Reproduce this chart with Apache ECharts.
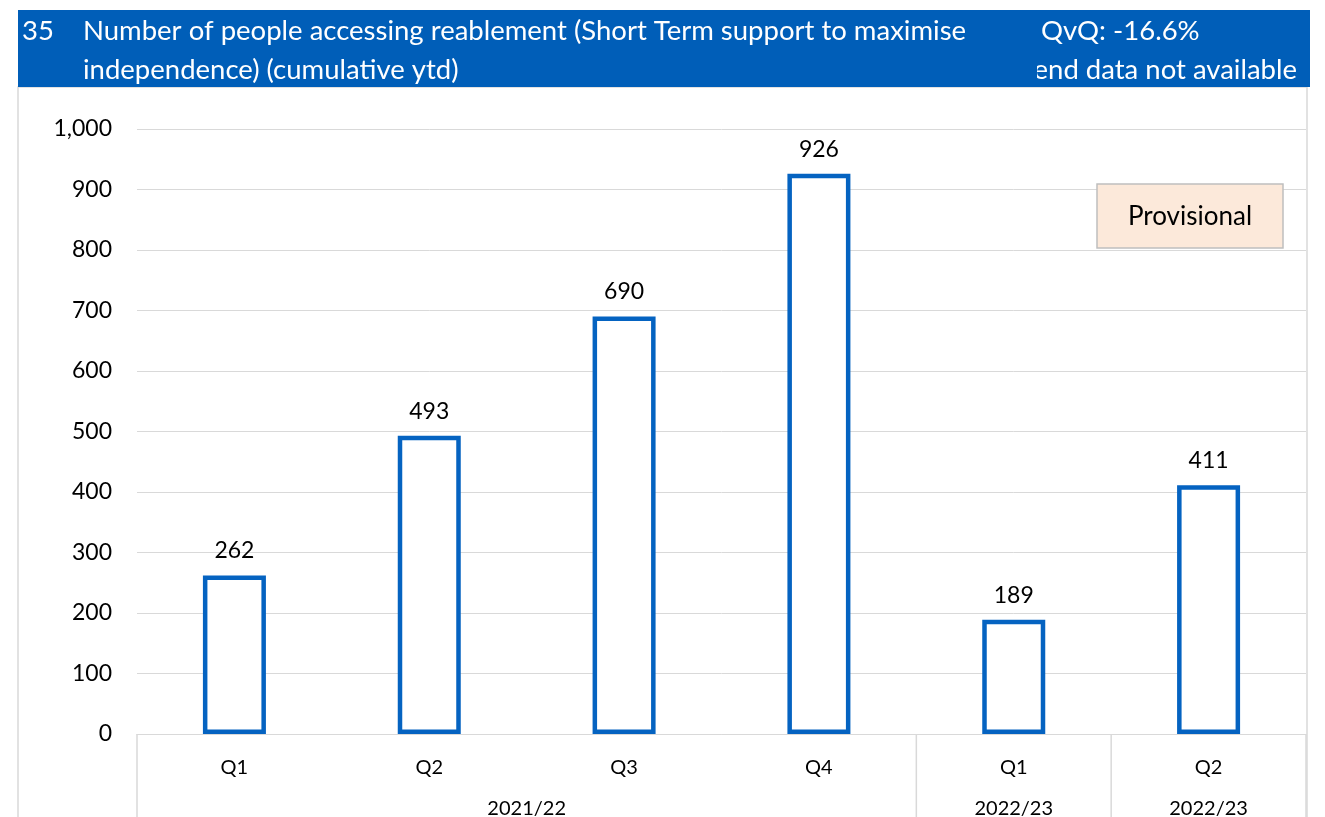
<!DOCTYPE html>
<html><head><meta charset="utf-8">
<script src="https://cdn.jsdelivr.net/npm/echarts@6/dist/echarts.min.js"></script>
<style>html,body{margin:0;padding:0;background:#fff}#c{width:1325px;height:817px}</style>
</head><body><div id="c"></div>
<script>
const categories = ['Q1', 'Q2', 'Q3', 'Q4', 'Q1', 'Q2'];
const values = [262, 493, 690, 926, 189, 411];
const groupLabels = ['2021/22', '2022/23', '2022/23'];
const groupStarts = [0, 4, 5];
const groupEnds = [3, 4, 5];
const titleNumber = '35';
const titleLines = ['Number of people accessing reablement (Short Term support to maximise', 'independence) (cumulative ytd)'];
const qvqText = 'QvQ: -16.6%';
const trendText = 'Trend data not available';
const noteText = 'Provisional';

const FONT = 'Lato';
const BLUE_HEAD = '#005EB8';
const BLUE_BAR = '#0563C1';
const GRID_C = '#D9D9D9';
const HEAD_SIZE = 27.5;

const chart = echarts.init(document.getElementById('c'), null, {renderer: 'canvas'});
const base = {
  animation: false,
  textStyle: {fontFamily: FONT},
  grid: {left: 137, right: 19, top: 129, bottom: 83, containLabel: false},
  xAxis: {
    type: 'category', data: categories,
    axisLine: {show: true, lineStyle: {color: GRID_C, width: 1}},
    axisTick: {show: false},
    axisLabel: {color: '#000', fontSize: 20, margin: 24, fontFamily: FONT}
  },
  yAxis: {
    type: 'value', min: 0, max: 1000, interval: 100,
    axisLine: {show: false}, axisTick: {show: false},
    splitLine: {lineStyle: {color: GRID_C, width: 1}},
    axisLabel: {color: '#000', fontSize: 23, margin: 25, fontFamily: FONT,
      formatter: v => v.toLocaleString('en-US')}
  },
  series: [{
    type: 'bar', data: values, barWidth: 63,
    itemStyle: {color: '#fff', borderColor: BLUE_BAR, borderWidth: 4.5},
    label: {show: true, position: 'top', distance: 13, color: '#000', fontSize: 23, fontFamily: FONT}
  }]
};
chart.setOption(base);

const c0 = chart.convertToPixel({xAxisIndex: 0}, 0);
const c1 = chart.convertToPixel({xAxisIndex: 0}, 1);
const bw = c1 - c0;
const yZero = chart.convertToPixel({yAxisIndex: 0}, 0);
const edge = i => c0 - bw / 2 + i * bw;
const graphics = [];
const hfont = HEAD_SIZE + 'px ' + FONT;
graphics.push({type: 'rect', shape: {x: 18, y: 87, width: 1289, height: 760}, style: {fill: 'none', stroke: GRID_C, lineWidth: 1.5}, z: 1});
graphics.push({type: 'rect', shape: {x: 18, y: 10, width: 1292, height: 77}, style: {fill: BLUE_HEAD}, z: 10});
graphics.push({type: 'text', x: 22, y: 31, style: {text: titleNumber, fill: '#fff', font: hfont, textVerticalAlign: 'middle'}, z: 11});
graphics.push({type: 'text', x: 83, y: 31, style: {text: titleLines[0], fill: '#fff', font: hfont, textVerticalAlign: 'middle'}, z: 11});
graphics.push({type: 'text', x: 83, y: 70, style: {text: titleLines[1], fill: '#fff', font: hfont, textVerticalAlign: 'middle'}, z: 11});
graphics.push({type: 'text', x: 1041, y: 31, style: {text: qvqText, fill: '#fff', font: hfont, textVerticalAlign: 'middle'}, z: 11});
graphics.push({type: 'text', x: 1297, y: 70, style: {text: trendText, fill: '#fff', font: hfont, textAlign: 'right', textVerticalAlign: 'middle'}, z: 11});
graphics.push({type: 'rect', shape: {x: 880, y: 52, width: 157, height: 35}, style: {fill: BLUE_HEAD}, z: 20});
graphics.push({type: 'rect', shape: {x: 1097, y: 184, width: 186, height: 64}, style: {fill: '#FCE9DA', stroke: '#BFBFBF', lineWidth: 1.5}, z: 10});
graphics.push({type: 'text', x: 1190, y: 217, style: {text: noteText, fill: '#000', font: '26px ' + FONT, textAlign: 'center', textVerticalAlign: 'middle'}, z: 11});
const seps = new Set([0]);
groupEnds.forEach(e => seps.add(e + 1));
seps.forEach(i => {
  graphics.push({type: 'line', shape: {x1: edge(i), y1: yZero, x2: edge(i), y2: 817}, style: {stroke: GRID_C, lineWidth: 1.5}, z: 5});
});
groupLabels.forEach((g, k) => {
  const cx = (edge(groupStarts[k]) + edge(groupEnds[k] + 1)) / 2;
  graphics.push({type: 'text', x: cx, y: 809, style: {text: g, fill: '#000', font: '20px ' + FONT, textAlign: 'center', textVerticalAlign: 'middle'}, z: 5});
});
chart.setOption({graphic: graphics});
</script></body></html>
